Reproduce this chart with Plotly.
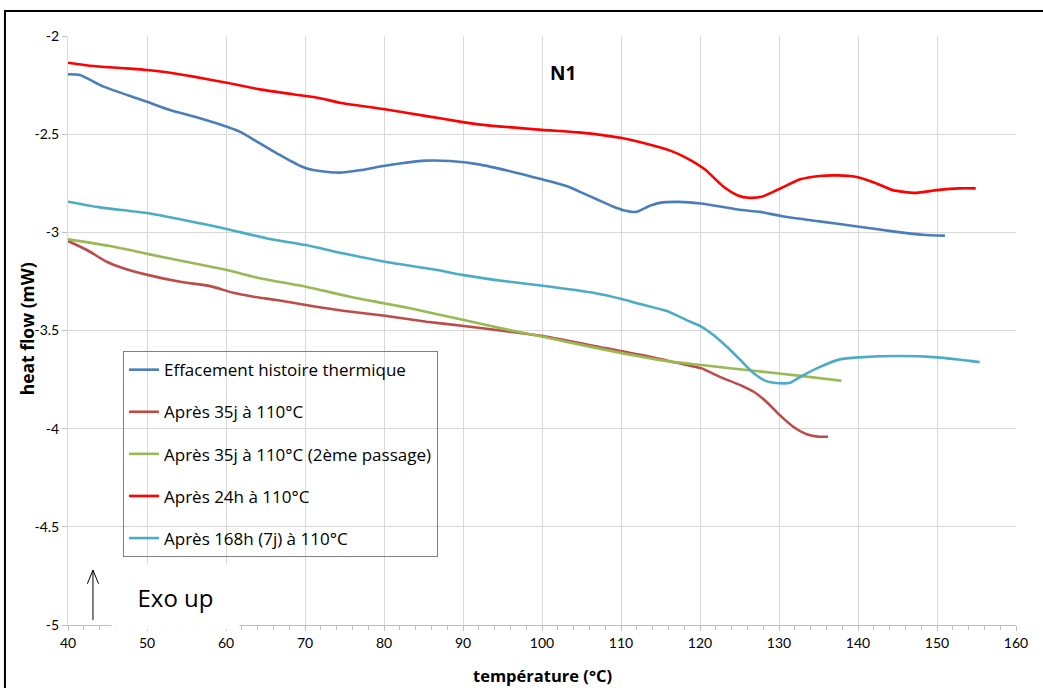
import plotly.graph_objects as go

# ---- data (temperature °C, heat flow mW) ----
blue_x = [40.0, 41.5, 44.5, 48.7, 50.0, 52.9, 56.7, 60.1, 61.8, 64.3, 66.8, 69.4, 71.0, 74.4, 77.0, 79.9, 82.0, 85.4, 88.3, 92.0, 96.7, 100.0, 103.2, 104.6, 107.0, 108.9, 110.3, 111.9, 113.5, 114.9, 117.3, 120.1, 124.8, 127.6, 130.4, 135.1, 139.7, 144.4, 148.2, 151.0]
blue_y = [-2.195, -2.199, -2.258, -2.317, -2.335, -2.377, -2.419, -2.462, -2.488, -2.547, -2.606, -2.662, -2.683, -2.696, -2.683, -2.662, -2.649, -2.635, -2.637, -2.654, -2.696, -2.730, -2.765, -2.790, -2.833, -2.867, -2.887, -2.896, -2.867, -2.850, -2.845, -2.853, -2.884, -2.896, -2.918, -2.944, -2.969, -2.995, -3.012, -3.017]

brown_x = [40.0, 42.4, 44.9, 47.0, 50.2, 54.2, 58.0, 60.9, 63.5, 66.4, 70.1, 74.8, 80.1, 85.4, 90.1, 95.9, 100.1, 108.2, 114.1, 118.3, 120.2, 122.5, 125.1, 126.8, 128.4, 130.1, 131.8, 133.5, 135.2, 136.2]
brown_y = [-3.044, -3.090, -3.150, -3.183, -3.218, -3.252, -3.274, -3.308, -3.328, -3.345, -3.370, -3.399, -3.425, -3.455, -3.477, -3.506, -3.528, -3.591, -3.637, -3.676, -3.693, -3.736, -3.778, -3.812, -3.863, -3.931, -3.990, -4.028, -4.041, -4.041]

green_x = [40.0, 45.3, 50.2, 55.9, 60.1, 64.3, 70.1, 75.7, 80.1, 83.3, 90.1, 95.9, 100.1, 108.2, 115.8, 120.2, 126.8, 132.7, 137.9]
green_y = [-3.036, -3.070, -3.111, -3.158, -3.192, -3.234, -3.277, -3.328, -3.362, -3.387, -3.447, -3.498, -3.532, -3.600, -3.656, -3.676, -3.705, -3.731, -3.756]

red_x = [40.0, 43.2, 47.4, 50.0, 52.5, 55.9, 60.1, 64.3, 68.5, 71.9, 74.4, 79.9, 85.4, 89.6, 92.9, 100.0, 104.6, 110.1, 112.6, 116.3, 118.2, 120.6, 122.9, 124.8, 126.2, 127.8, 129.9, 132.7, 135.1, 137.4, 139.7, 142.1, 144.4, 147.2, 150.0, 152.8, 154.9]
red_y = [-2.136, -2.153, -2.165, -2.173, -2.185, -2.207, -2.238, -2.272, -2.297, -2.317, -2.340, -2.372, -2.408, -2.436, -2.454, -2.478, -2.491, -2.520, -2.543, -2.585, -2.619, -2.679, -2.765, -2.812, -2.824, -2.819, -2.782, -2.730, -2.713, -2.710, -2.717, -2.747, -2.785, -2.799, -2.785, -2.776, -2.776]

cyan_x = [40.0, 44.05, 50.2, 56.7, 60.1, 65.2, 70.1, 74.8, 80.1, 86.7, 90.1, 95.9, 100.1, 106.5, 110.2, 112.4, 115.8, 118.3, 120.2, 121.7, 123.4, 125.1, 126.8, 128.4, 130.1, 131.4, 133.1, 135.2, 137.7, 140.1, 145.3, 150.1, 155.4]
cyan_y = [-2.844, -2.873, -2.903, -2.954, -2.983, -3.031, -3.065, -3.107, -3.150, -3.192, -3.218, -3.252, -3.272, -3.308, -3.341, -3.365, -3.401, -3.447, -3.481, -3.523, -3.583, -3.650, -3.718, -3.758, -3.769, -3.766, -3.727, -3.685, -3.647, -3.637, -3.630, -3.637, -3.661]

series_names = ["Effacement histoire thermique", "Après 35j à 110°C",
                "Après 35j à 110°C (2ème passage)", "Après 24h à 110°C",
                "Après 168h (7j) à 110°C"]
series_colors = ["#4A7EBB", "#BE4B48", "#98B954", "#FF0000", "#4BACC6"]

x_ticks = list(range(40, 161, 10))
y_ticks = [-5, -4.5, -4, -3.5, -3, -2.5, -2]
y_tick_text = ["-5", "-4.5", "-4", "-3.5", "-3", "-2.5", "-2"]

FONT = "'Open Sans', Lato, sans-serif"

fig = go.Figure()
data = [(blue_x, blue_y), (brown_x, brown_y), (green_x, green_y), (red_x, red_y), (cyan_x, cyan_y)]
for i, ((xs, ys), name, col) in enumerate(zip(data, series_names, series_colors)):
    fig.add_trace(go.Scatter(
        x=xs, y=ys, mode="lines", name=name, legendgroup=f"g{i}",
        line=dict(color=col, width=2.6, shape="spline", smoothing=0.6),
    ))

fig.update_layout(
    width=1043, height=688,
    margin=dict(l=68, r=27, t=36, b=63),
    paper_bgcolor="white", plot_bgcolor="white",
    font=dict(family=FONT, color="#000000"),
    legend=dict(
        x=0.058, y=0.465, xanchor="left", yanchor="top",
        bgcolor="rgba(0,0,0,0)", bordercolor="#7f7f7f", borderwidth=1,
        font=dict(size=17, family=FONT, color="#000000"),
        traceorder="grouped", tracegroupgap=17,
    ),
    xaxis=dict(
        range=[40, 160], tickvals=x_ticks, showgrid=True, gridcolor="#d9d9d9",
        gridwidth=1, zeroline=False, showline=True, linecolor="#bfbfbf",
        ticks="outside", ticklen=5, tickcolor="#bfbfbf",
        minor=dict(dtick=2, ticks="outside", ticklen=4, tickcolor="#bfbfbf", showgrid=False),
        tickfont=dict(size=14, family="Lato, sans-serif", color="#000000"),
    ),
    yaxis=dict(
        range=[-5, -2], tickvals=y_ticks, ticktext=y_tick_text, showgrid=True,
        gridcolor="#d9d9d9", gridwidth=1, zeroline=False, showline=True,
        linecolor="#d9d9d9", ticks="outside", ticklen=5, tickcolor="#bfbfbf",
        tickfont=dict(size=14, family="Lato, sans-serif", color="#000000"),
    ),
    showlegend=True,
)

annotations = [
    dict(text="<b>N1</b>", x=102.7, y=-2.188, xref="x", yref="y", showarrow=False,
         xanchor="center", yanchor="middle",
         font=dict(size=19, family=FONT, color="#000000")),
    dict(text="<b>température (°C)</b>", x=0.5, y=-0.085, xref="paper", yref="paper",
         showarrow=False, xanchor="center", yanchor="middle",
         font=dict(size=16.5, family=FONT, color="#000000")),
    dict(text="<b>heat flow (mW)</b>", x=-0.0432, y=0.502, xref="paper", yref="paper",
         textangle=-90, showarrow=False, xanchor="center", yanchor="middle",
         font=dict(size=17.5, family=FONT, color="#000000")),
    dict(text="Exo up", x=53.6, y=-4.858, xref="x", yref="y", showarrow=False,
         xanchor="center", yanchor="middle", width=125, height=62, bgcolor="white",
         font=dict(size=24, family=FONT, color="#000000")),
]
fig.update_layout(annotations=annotations)

shapes = [
    # outer frame
    dict(type="rect", xref="paper", yref="paper", x0=-0.0665, x1=1.2, y0=-0.3, y1=1.0425,
         line=dict(color="black", width=2), fillcolor="rgba(0,0,0,0)", layer="above"),
    # "Exo up" arrow
    dict(type="line", xref="x", yref="y", x0=43.16, x1=43.16, y0=-4.975, y1=-4.72,
         line=dict(color="black", width=1), layer="above"),
    dict(type="path", xref="x", yref="y", path="M 42.45 -4.79 L 43.16 -4.72 L 43.87 -4.79",
         line=dict(color="black", width=1), layer="above"),
]
fig.update_layout(shapes=shapes)

fig.write_html("out.html", config={"displayModeBar": False},
               post_script="document.body.style.margin='0';document.body.style.overflow='hidden';")
